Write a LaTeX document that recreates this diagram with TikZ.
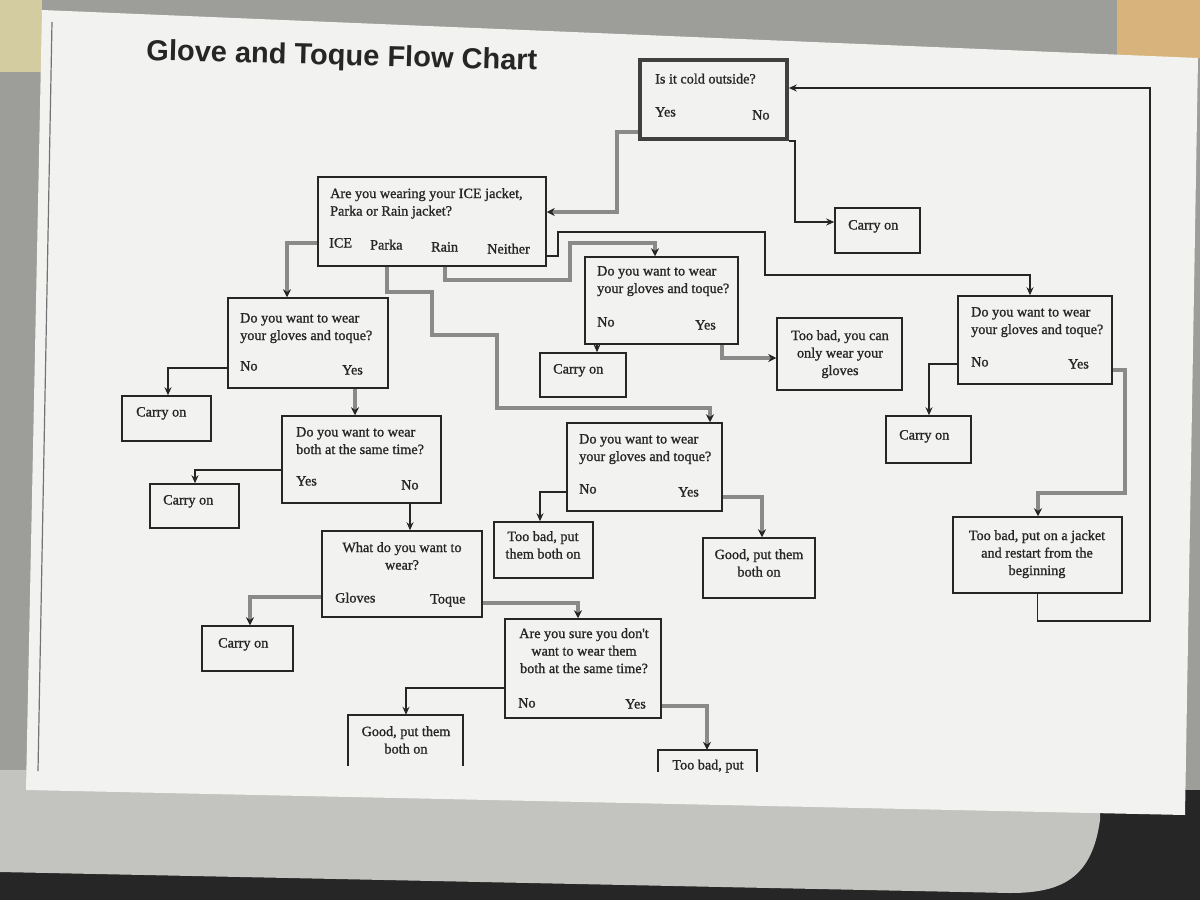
\documentclass[tikz,border=0pt]{standalone}
\usepackage{fontspec}
\setmainfont{Liberation Serif}
\newfontfamily\inkfont{Liberation Serif}[FakeBold=1.1]
\newfontfamily\titlefont{Liberation Sans}
\usetikzlibrary{arrows.meta,fit,calc}
\definecolor{bggray}{HTML}{9D9D99}
\definecolor{tanwood}{HTML}{D8B47C}
\definecolor{paleyel}{HTML}{D3CCA0}
\definecolor{tablegray}{HTML}{C3C3BF}
\definecolor{darkbg}{HTML}{262626}
\definecolor{paper}{HTML}{F2F2F0}
\definecolor{ink}{HTML}{262626}
\definecolor{greyline}{HTML}{8A8A8A}
\begin{document}
\begin{tikzpicture}[x=1pt,y=-1pt,
  box/.style={draw=ink, line width=1.5pt, inner sep=0pt},
  openbox/.style={inner sep=0pt},
  boxline/.style={draw=ink, line width=1.5pt},
  txt/.style={inner sep=0pt, text=ink, align=left, font=\inkfont\fontsize{14.2}{17.5}\selectfont},
  ctxt/.style={txt, align=center},
  gline/.style={draw=greyline, line width=3.2pt, -{Stealth[length=8pt,width=8pt,color=ink]}},
  bline/.style={draw=ink, line width=1.5pt, -{Stealth[length=8pt,width=7pt]}}
]
\useasboundingbox (0,0) rectangle (1200,900);
% photo surroundings
\fill[bggray] (0,0) rectangle (1200,900);
\fill[darkbg] (0,855) rectangle (1200,900);
\fill[darkbg] (1080,790) rectangle (1200,900);
\fill[paleyel] (0,0) rectangle (42,72);
\fill[tanwood] (1117,0) rectangle (1200,58);
\fill[tablegray] (0,770) -- (1100,770) -- (1100,820) .. controls (1092,878) and (1062,893) .. (1010,893) -- (0,872) -- cycle;
\fill[paper] (42,10) -- (1198,58) -- (1185,815) -- (26,790) -- cycle;
\draw[black!55, line width=1.2pt] (52,22) -- (38,771);

% title
\node[anchor=base west, inner sep=0pt, rotate=-1.5, text=ink,
      font=\titlefont\bfseries\fontsize{29}{34}\selectfont] (title) at (146,60) {Glove and Toque Flow Chart};

% boxes
\node[box, draw=black!75, line width=3.6pt, fit={(640,60) (787,139)}] (start) {};
\node[box, fit={(318,177) (546,266)}] (jacket) {};
\node[box, fit={(835,208) (920,253)}] (cR) {};
\node[box, fit={(585,257) (738,344)}] (mG) {};
\node[box, fit={(228,298) (388,388)}] (lG) {};
\node[box, fit={(958,296) (1112,384)}] (rG) {};
\node[box, fit={(777,318) (902,390)}] (onlyG) {};
\node[box, fit={(540,353) (626,397)}] (cM) {};
\node[box, fit={(122,396) (211,441)}] (cL1) {};
\node[box, fit={(886,416) (971,463)}] (cR2) {};
\node[box, fit={(282,416) (441,503)}] (both) {};
\node[box, fit={(567,423) (722,511)}] (cG) {};
\node[box, fit={(150,484) (239,528)}] (cL2) {};
\node[box, fit={(494,522) (593,578)}] (bad2) {};
\node[box, fit={(703,538) (815,598)}] (good1) {};
\node[box, fit={(953,517) (1122,593)}] (restart) {};
\node[box, fit={(322,531) (482,617)}] (what) {};
\node[box, fit={(202,626) (293,671)}] (cL3) {};
\node[box, fit={(505,619) (661,718)}] (sure) {};
\node[openbox, fit={(348,715) (463,766)}] (good2) {};
\node[openbox, fit={(658,750) (757,772)}] (bad3) {};
\draw[boxline] (good2.south west) |- (good2.north east) -- (good2.south east);
\draw[boxline] (bad3.south west) |- (bad3.north east) -- (bad3.south east);

% texts
\node[txt, anchor=base west] (t-start) at (655,83.5) {Is it cold outside?};
\node[txt, anchor=base west] (t-start-y) at (655,116.5) {Yes};
\node[txt, anchor=base west] (t-start-n) at (752,119.5) {No};

\node[txt, anchor=north west] (t-jacket) at (330,188) {Are you wearing your ICE jacket,\\Parka or Rain jacket?};
\node[txt, anchor=base west] (t-ice) at (329,247.5) {ICE};
\node[txt, anchor=base west] (t-parka) at (370,249.5) {Parka};
\node[txt, anchor=base west] (t-rain) at (431,251.5) {Rain};
\node[txt, anchor=base west] (t-neither) at (487,253.5) {Neither};

\node[txt, anchor=base west] (t-cR) at (848,229.5) {Carry on};

\node[txt, anchor=north west] (t-mG) at (597,266) {Do you want to wear\\your gloves and toque?};
\node[txt, anchor=base west] (t-mG-n) at (597,326.5) {No};
\node[txt, anchor=base west] (t-mG-y) at (695,329.5) {Yes};

\node[txt, anchor=north west] (t-lG) at (240,313) {Do you want to wear\\your gloves and toque?};
\node[txt, anchor=base west] (t-lG-n) at (240,370.5) {No};
\node[txt, anchor=base west] (t-lG-y) at (342,374.5) {Yes};

\node[txt, anchor=north west] (t-rG) at (971,307) {Do you want to wear\\your gloves and toque?};
\node[txt, anchor=base west] (t-rG-n) at (971,366.5) {No};
\node[txt, anchor=base west] (t-rG-y) at (1068,368.5) {Yes};

\node[ctxt, anchor=north] (t-onlyG) at (840,330) {Too bad, you can\\only wear your\\gloves};
\node[txt, anchor=base west] (t-cM) at (553,373.5) {Carry on};
\node[txt, anchor=base west] (t-cL1) at (136,416.5) {Carry on};
\node[txt, anchor=base west] (t-cR2) at (899,439.5) {Carry on};

\node[txt, anchor=north west] (t-both) at (296,427) {Do you want to wear\\both at the same time?};
\node[txt, anchor=base west] (t-both-y) at (296,485.5) {Yes};
\node[txt, anchor=base west] (t-both-n) at (401,489.5) {No};

\node[txt, anchor=north west] (t-cG) at (579,434) {Do you want to wear\\your gloves and toque?};
\node[txt, anchor=base west] (t-cG-n) at (579,493.5) {No};
\node[txt, anchor=base west] (t-cG-y) at (678,496.5) {Yes};

\node[txt, anchor=base west] (t-cL2) at (163,504.5) {Carry on};
\node[ctxt, anchor=north] (t-bad2) at (543,531) {Too bad, put\\them both on};
\node[ctxt, anchor=north] (t-good1) at (759,549) {Good, put them\\both on};
\node[ctxt, anchor=north] (t-restart) at (1037,530) {Too bad, put on a jacket\\and restart from the\\beginning};

\node[ctxt, anchor=north] (t-what) at (402,542) {What do you want to\\wear?};
\node[txt, anchor=base west] (t-what-g) at (335,602.5) {Gloves};
\node[txt, anchor=base west] (t-what-t) at (430,603.5) {Toque};

\node[txt, anchor=base west] (t-cL3) at (218,647.5) {Carry on};

\node[ctxt, anchor=north] (t-sure) at (584,628) {Are you sure you don't\\want to wear them\\both at the same time?};
\node[txt, anchor=base west] (t-sure-n) at (518,707.5) {No};
\node[txt, anchor=base west] (t-sure-y) at (625,708.5) {Yes};

\node[ctxt, anchor=north] (t-good2) at (406,726) {Good, put them\\both on};
\node[txt, anchor=base] (t-bad3) at (708,769.5) {Too bad, put};

% connectors
\draw[gline] (start.west |- 0,132) -| (617,212) -- (jacket.east |- 0,212);
\draw[bline] (start.south east) -| (795,222) -- (cR.west |- 0,222);
\draw[bline] (restart.south) -- ++(0,27) -| (1150,88) -- (start.east |- 0,88);
\draw[gline] (jacket.west |- 0,243) -| (lG.north -| 287,0);
\draw[gline] (jacket.south -| 387,0) |- (432,292) |- (497,335) |- (710,408) -- (cG.north -| 710,0);
\draw[gline] (jacket.south -| 445,0) |- (570,280) |- (655,243) -- (mG.north -| 655,0);
\draw[bline] (jacket.east |- 0,256) -| (558,232) -| (765,275) -| (rG.north -| 1030,0);
\draw[bline] (lG.west |- 0,368) -| (cL1.north -| 168,0);
\draw[gline] (lG.south -| 355,0) -- (both.north -| 355,0);
\draw[bline] (both.west |- 0,470) -| (cL2.north -| 195,0);
\draw[bline] (both.south -| 410,0) -- (what.north -| 410,0);
\draw[gline] (what.west |- 0,597) -| (cL3.north -| 250,0);
\draw[gline] (what.east |- 0,603) -| (sure.north -| 578,0);
\draw[bline] (sure.west |- 0,688) -| (good2.north -| 406,0);
\draw[gline] (sure.east |- 0,706) -| (bad3.north -| 707,0);
\draw[bline] (mG.south -| 597,0) -- (cM.north -| 597,0);
\draw[gline] (mG.south -| 722,0) |- (onlyG.west |- 0,358);
\draw[bline] (cG.west |- 0,492) -| (bad2.north -| 540,0);
\draw[gline] (cG.east |- 0,497) -| (good1.north -| 762,0);
\draw[bline] (rG.west |- 0,364) -| (cR2.north -| 929,0);
\draw[gline] (rG.east |- 0,370) -| (1125,493) -| (restart.north -| 1038,0);
\end{tikzpicture}
\end{document}
